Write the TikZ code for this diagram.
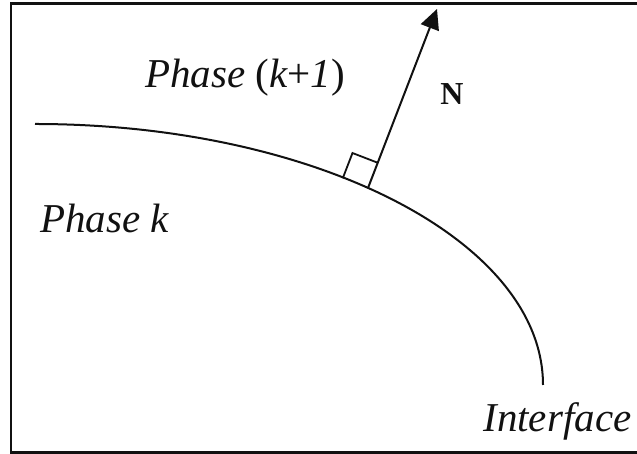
\documentclass[tikz,border=0pt]{standalone}
\usepackage{fontspec}
\setmainfont{Liberation Serif}
\usetikzlibrary{arrows.meta,calc}
\definecolor{ink}{HTML}{111111}

\begin{document}
\begin{tikzpicture}[
  x=0.5pt, y=0.5pt,
  line join=miter,
  frame/.style={draw=ink, line width=1.25pt},
  iface/.style={draw=ink, line width=1pt},
  normal/.style={-{Triangle[length=10pt, width=9.5pt]}, draw=ink, line width=1pt},
  marker/.style={draw=ink, line width=0.9pt},
  label/.style={inner sep=0pt, anchor=base west, text=ink, font=\fontsize{20.5}{24}\selectfont\itshape},
  vec/.style={inner sep=0pt, anchor=base west, text=ink, font=\fontsize{16}{19}\selectfont\bfseries}
]

\useasboundingbox (0,0) rectangle (637,454);
\clip (0,0) rectangle (637,454);

% frame (right side falls outside the picture)
\draw[frame] (11.2,1.7) rectangle (660,450.7);

% interface: quarter of an ellipse
\coordinate (centre) at (35,69);
\draw[iface] (35,330) arc[start angle=90, end angle=0, x radius=254pt, y radius=130.5pt];

% normal vector
\coordinate (foot) at (368,266);
\coordinate (tip) at (437,445);
\draw[normal] (foot) -- (tip);

% right angle mark
\coordinate (side) at ($(foot)!0.141!90:(tip)$);
\coordinate (up) at ($(foot)!0.141!(tip)$);
\draw[marker] (side) -- ($(side)+(up)-(foot)$) -- (up);

% labels
\node[label] (upper) at (145,366) {Phase {\upshape(}k{\upshape+}1{\upshape)}};
\node[label] (lower) at (40,221) {Phase k};
\node[vec] (nlabel) at (440,349) {N};
\node[label] (surface) at (483,22) {Interface};

\end{tikzpicture}
\end{document}
